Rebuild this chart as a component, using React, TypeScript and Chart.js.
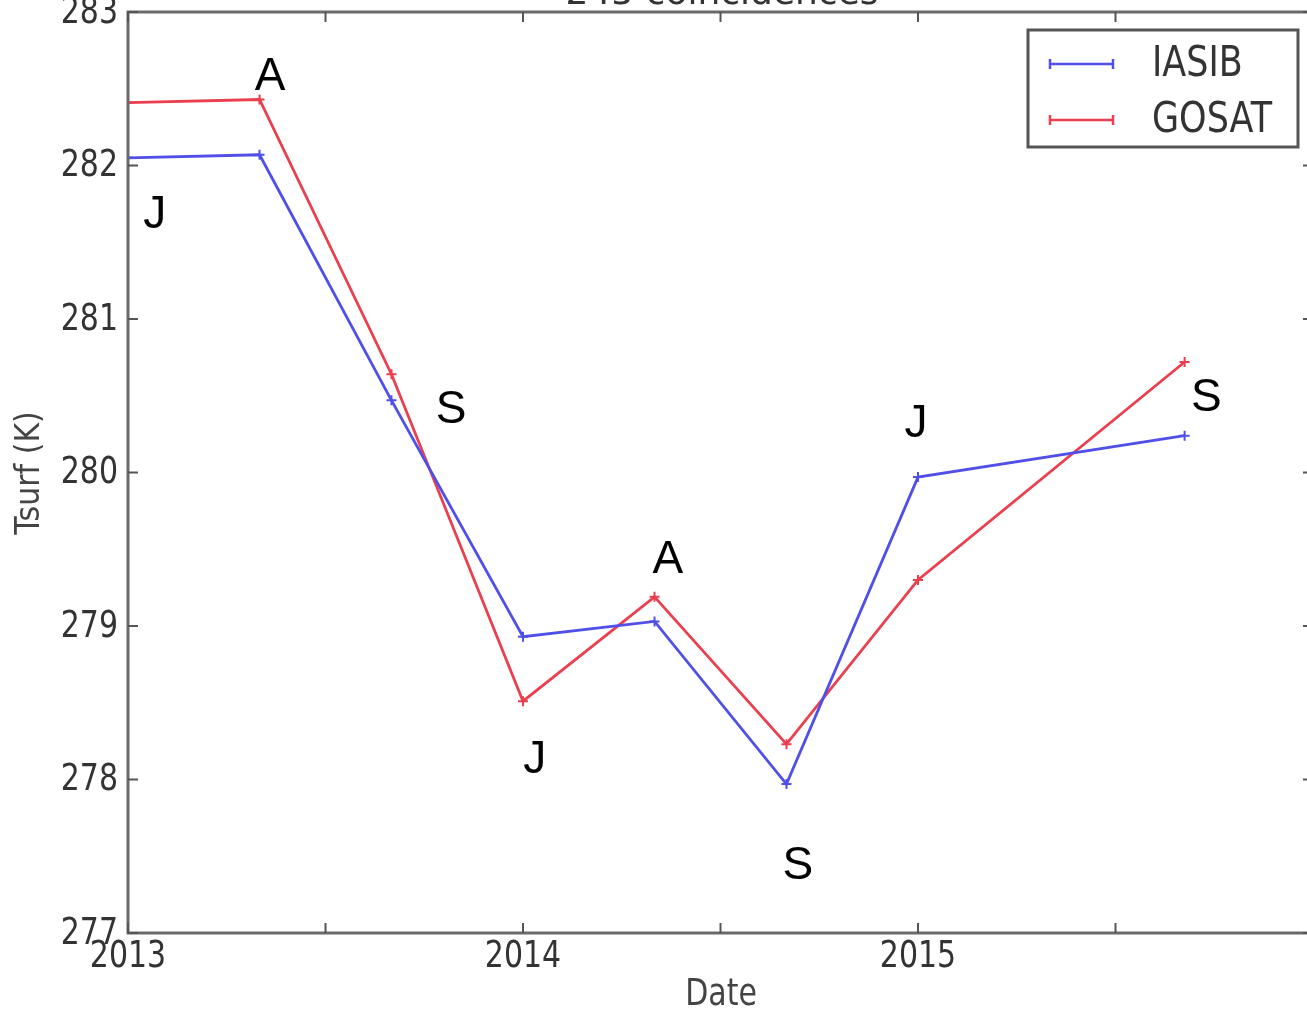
import React, { useEffect, useRef } from 'react';
import { Chart, registerables } from 'chart.js';

Chart.register(...registerables);

// ---- data ----
const dates = [2013.0, 2013.333, 2013.667, 2014.0, 2014.333, 2014.667, 2015.0, 2015.675];
const iasib = [282.05, 282.07, 280.47, 278.93, 279.03, 277.97, 279.97, 280.24];
const gosat = [282.41, 282.43, 280.64, 278.51, 279.19, 278.23, 279.3, 280.72];
const seriesNames = ['IASIB', 'GOSAT'];
const seriesColors = ['#5050e8', '#ea3f4f'];
const xTickLabels = ['2013', '2014', '2015'];
const seasonLetters = ['J', 'A', 'S', 'J', 'A', 'S', 'J', 'S'];
const seasonX = [2013.068, 2013.36, 2013.818, 2014.03, 2014.367, 2014.696, 2014.995, 2015.73];
const seasonY = [281.7, 282.6, 280.43, 278.15, 279.45, 277.46, 280.34, 280.51];
const titleText = '245 coincidences';
const xTitle = 'Date';
const yTitle = 'Tsurf (K)';

const W = 1340;
const H = 1074;
const TOP_SHIFT = 60;
const STRETCH = 1.22;

const decor = {
  id: 'decor',
  afterDatasetsDraw(chart: any) {
    const { ctx, chartArea: a, scales } = chart;
    const x = scales.x;
    const y = scales.y;
    ctx.save();
    const line = (x1: number, y1: number, x2: number, y2: number) => {
      ctx.beginPath();
      ctx.moveTo(x1, y1);
      ctx.lineTo(x2, y2);
      ctx.stroke();
    };
    const stext = (t: string, px: number, py: number, align: CanvasTextAlign, font: string, color: string) => {
      ctx.save();
      ctx.font = font;
      ctx.fillStyle = color;
      ctx.textAlign = align;
      ctx.textBaseline = 'middle';
      ctx.translate(px, py);
      ctx.scale(1, STRETCH);
      ctx.fillText(t, 0, 0);
      ctx.restore();
    };
    // season letters
    ctx.fillStyle = '#000';
    ctx.font = '46px "Liberation Sans", Arial, sans-serif';
    ctx.textAlign = 'center';
    ctx.textBaseline = 'alphabetic';
    seasonLetters.forEach((s, i) => {
      const px = x.getPixelForValue(seasonX[i]);
      const py = y.getPixelForValue(seasonY[i]);
      ctx.fillText(s, px, py + 16.5);
    });
    // spines
    ctx.strokeStyle = '#6a6a6a';
    ctx.lineWidth = 3;
    ctx.strokeRect(a.left, a.top, a.right - a.left, a.bottom - a.top);
    // inward ticks
    ctx.lineWidth = 2;
    ctx.strokeStyle = '#555';
    x.ticks.forEach((t: any) => {
      const px = x.getPixelForValue(t.value);
      line(px, a.bottom, px, a.bottom - 10);
      line(px, a.top, px, a.top + 10);
    });
    y.ticks.forEach((t: any) => {
      const py = y.getPixelForValue(t.value);
      line(a.left, py, a.left + 10, py);
      line(a.right, py, a.right - 10, py);
    });
    // tick labels
    const tickFont = '30px "DejaVu Sans"';
    x.ticks.forEach((t: any) => {
      const s = String(t.value);
      if (!xTickLabels.includes(s)) return;
      stext(s, x.getPixelForValue(t.value), a.bottom + 24, 'center', tickFont, '#333');
    });
    y.ticks.forEach((t: any) => {
      stext(String(t.value), a.left - 10, y.getPixelForValue(t.value) + 1, 'right', tickFont, '#333');
    });
    // legend
    const lx = 1028, ly = TOP_SHIFT + 30, lw = 270, lh = 117;
    ctx.fillStyle = '#fff';
    ctx.fillRect(lx, ly, lw, lh);
    ctx.strokeStyle = '#555';
    ctx.lineWidth = 3;
    ctx.strokeRect(lx, ly, lw, lh);
    chart.data.datasets.forEach((ds: any, i: number) => {
      const yy = ly + 34 + i * 56;
      ctx.strokeStyle = ds.borderColor;
      ctx.lineWidth = 2.5;
      line(lx + 22, yy, lx + 85, yy);
      line(lx + 22, yy - 5, lx + 22, yy + 5);
      line(lx + 85, yy - 5, lx + 85, yy + 5);
      stext(ds.label, lx + 124, yy + 1, 'left', '35px "DejaVu Sans"', '#333');
    });
    // title (mostly clipped at the top of the page)
    ctx.fillStyle = '#333';
    ctx.font = '36px "DejaVu Sans"';
    ctx.textAlign = 'center';
    ctx.textBaseline = 'alphabetic';
    ctx.fillText(titleText, 722, TOP_SHIFT + 4);
    // axis titles
    stext(xTitle, 721, TOP_SHIFT + 995, 'center', '30px "DejaVu Sans"', '#444');
    ctx.save();
    ctx.translate(30, TOP_SHIFT + 473);
    ctx.rotate(-Math.PI / 2);
    ctx.font = '30px "DejaVu Sans"';
    ctx.fillStyle = '#444';
    ctx.textAlign = 'center';
    ctx.textBaseline = 'middle';
    ctx.scale(1, 1.1);
    ctx.fillText(yTitle, 0, 0);
    ctx.restore();
    ctx.restore();
  },
};

export default function App() {
  const ref = useRef<HTMLCanvasElement>(null);
  useEffect(() => {
    if (!ref.current) return;
    const chart = new Chart(ref.current, {
      type: 'line',
      data: {
        datasets: [iasib, gosat].map((vals, k) => ({
          label: seriesNames[k],
          data: dates.map((d, i) => ({ x: d, y: vals[i] })),
          borderColor: seriesColors[k],
          backgroundColor: seriesColors[k],
          borderWidth: 2.8,
          pointStyle: 'cross',
          pointRadius: 5,
          pointBorderWidth: 2,
          tension: 0,
          fill: false,
        })),
      },
      options: {
        responsive: false,
        animation: false,
        devicePixelRatio: 1,
        layout: { padding: { top: TOP_SHIFT + 12, left: 0, right: W - 1313, bottom: 0 } },
        plugins: { legend: { display: false }, title: { display: false }, tooltip: { enabled: false } },
        scales: {
          x: {
            type: 'linear',
            min: 2013,
            max: 2016,
            grid: { display: false },
            border: { display: false },
            afterFit: (s: any) => { s.height = 81; },
            ticks: { stepSize: 0.5, autoSkip: false, maxRotation: 0, display: false },
          },
          y: {
            min: 277,
            max: 283,
            grid: { display: false },
            border: { display: false },
            afterFit: (s: any) => { s.width = 128; },
            ticks: { stepSize: 1, display: false },
          },
        },
      },
      plugins: [decor],
    });
    return () => chart.destroy();
  }, []);
  return (
    <div style={{ position: 'fixed', left: 0, top: 0, width: 1307, height: 1014, overflow: 'hidden', background: '#fff' }}>
      <canvas ref={ref} width={W} height={H} style={{ position: 'absolute', left: 0, top: -TOP_SHIFT, width: W, height: H }} />
    </div>
  );
}
